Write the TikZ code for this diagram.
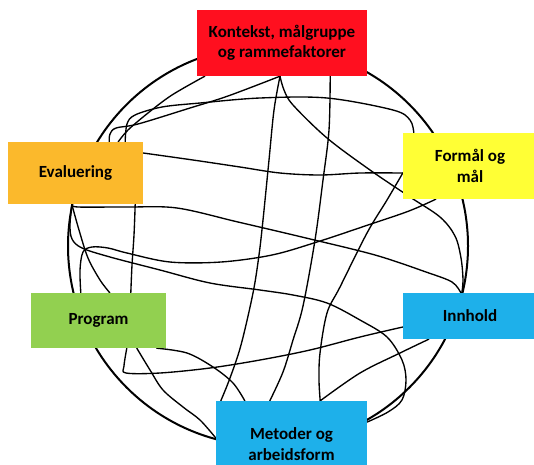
\documentclass[tikz,border=0pt]{standalone}
\usepackage{fontspec}
\setmainfont{Carlito}
\usetikzlibrary{backgrounds}
\definecolor{kred}{HTML}{FF0F1F}
\definecolor{korange}{HTML}{FBB92C}
\definecolor{kyellow}{HTML}{FFFF35}
\definecolor{kgreen}{HTML}{92D050}
\definecolor{kblue}{HTML}{1EB0EA}

\begin{document}
\begin{tikzpicture}[x=1pt,y=-1pt]
	\tikzstyle{box_style} = [rectangle,inner sep=0pt,align=center,text=black,font=\bfseries\fontsize{17}{20.5}\selectfont]
	\tikzstyle{line_style} = [draw=black,line width=1.35pt,line cap=round,line join=round]
	\tikzstyle{ring_style} = [draw=black,line width=2pt]
	\useasboundingbox (0,0) rectangle (534,464);
	\node[box_style,fill=kred,minimum width=170pt,minimum height=66pt] (kontekst) at (282,43) {Kontekst, målgruppe\\og rammefaktorer};
	\node[box_style,fill=korange,minimum width=135pt,minimum height=62pt] (evaluering) at (75.5,173) {Evaluering};
	\node[box_style,fill=kyellow,minimum width=134pt,minimum height=66pt] (formaal) at (470,166) {Formål og\\mål};
	\node[box_style,fill=kgreen,minimum width=135pt,minimum height=55pt] (program) at (98.5,320.5) {Program};
	\node[box_style,fill=kblue,minimum width=134pt,minimum height=46pt] (innhold) at (470,316) {Innhold};
	\node[box_style,fill=kblue,minimum width=151pt,minimum height=86pt] (metoder) at (291.5,444) {Metoder og\\arbeidsform};
	\begin{pgfonlayer}{background}
	\draw[ring_style] (268,246) circle (200pt);
	\draw[line_style] plot[smooth,tension=0.55] coordinates {([xshift=8pt]kontekst.south west) (172,95) (148,113) (128,130) ([xshift=-25pt]evaluering.north east)};
	\draw[line_style] plot[smooth,tension=0.55] coordinates {([xshift=-2pt]kontekst.south) (228,96) (190,108) (138,124) (116,128) (110,134) ([xshift=-34pt]evaluering.north east)};
	\draw[line_style] plot[smooth,tension=0.55] coordinates {([xshift=11pt]formaal.north west) (410,120) (393,110) (327,98) (260,98) (200,103) (162,107) (135,115) (127,124) ([xshift=-18pt]evaluering.north east)};
	\draw[line_style] plot[smooth,tension=0.55] coordinates {([xshift=-2pt]kontekst.south) (274,110) (269,160) (263,220) (259,255) (253,293) (241,345) (230,378) ([xshift=5pt]metoder.north west)};
	\draw[line_style] plot[smooth,tension=0.55] coordinates {([xshift=-2pt]kontekst.south) (284,90) (293,105) (327,138) (370,170) (410,197) (440,217) (455,236) (461,258) (463,280) ([xshift=59pt]innhold.north west)};
	\draw[line_style] plot[smooth,tension=0.55] coordinates {([xshift=-37pt]kontekst.south east) (329,130) (323,180) (315,240) (303,306) (293,340) (283,372) ([xshift=54pt]metoder.north west)};
	\draw[line_style] plot[smooth,tension=0.55] coordinates {([yshift=20pt]evaluering.east) (193,160) (240,167) (280,173) (320,175) (360,173) ([yshift=-7pt]formaal.west)};
	\draw[line_style] plot[smooth,tension=0.55] coordinates {([xshift=64pt]evaluering.south west) (78,207) (127,207) (177,208) (238,222) (306,238) (375,255) (426,272) (452,282) ([xshift=58pt]innhold.north west)};
	\draw[line_style] plot[smooth,tension=0.55] coordinates {([xshift=33pt]formaal.south west) (409,211) (368,225) (317,242) (272,255) (221,262) (170,262) (127,253) (108,248) (92,247) (83,252) (80,270) ([xshift=50pt]program.north west)};
	\draw[line_style] plot[smooth,tension=0.55] coordinates {([xshift=64pt]evaluering.south west) (70,225) (72,239) (82,248) (110,257) (160,270) (210,283) (260,290) (293,295) (327,303) (360,320) (387,337) (402,360) (406,380) (402,400) (388,412) ([yshift=22pt]metoder.east)};
	\draw[line_style] plot[smooth,tension=0.55] coordinates {([xshift=64pt]evaluering.south west) (79,230) (88,258) (100,280) ([xshift=79pt]program.north west)};
	\draw[line_style] plot[smooth,tension=0.55] coordinates {([xshift=-8pt]evaluering.south east) (134,235) (132,265) ([xshift=100pt]program.north west)};
	\draw[line_style] plot[smooth,tension=0.55] coordinates {([xshift=96pt]program.south west) (124,366) (126,373) (160,373) (210,368) (260,360) (310,350) (360,337) ([yshift=-11pt]innhold.west)};
	\draw[line_style] plot[smooth,tension=0.55] coordinates {([xshift=106pt]program.south west) (150,370) (163,390) (183,407) (200,420) ([yshift=6pt]metoder.west)};
	\draw[line_style] plot[smooth,tension=0.55] coordinates {([xshift=126pt]program.south west) (187,353) (213,367) (233,383) ([xshift=29pt]metoder.north west)};
	\draw[line_style] plot[smooth,tension=0.55] coordinates {([xshift=26pt]innhold.south west) (400,353) (360,373) ([xshift=-47pt]metoder.north east)};
	\draw[line_style] plot[smooth,tension=0.55] coordinates {([yshift=-7pt]formaal.west) (387,200) (367,233) (340,287) (327,313) (320,353) (319,380) ([xshift=-47pt]metoder.north east)};
	\end{pgfonlayer}
\end{tikzpicture}
\end{document}
